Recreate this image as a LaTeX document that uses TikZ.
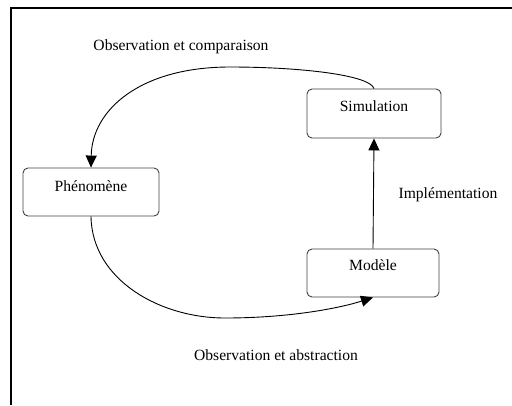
\documentclass[tikz,border=0pt]{standalone}
\usepackage{fontspec}
\setmainfont{Liberation Serif}
\usetikzlibrary{arrows.meta}
\begin{document}
\begin{tikzpicture}[x=1pt,y=-1pt,
  box/.style={draw=black!75,line width=0.9pt,rounded corners=5pt,inner sep=0pt},
  lbl/.style={font=\fontsize{15.6}{18}\selectfont,inner sep=0pt,anchor=center},
  conn/.style={draw=black,line width=0.9pt},
  tip/.style={-{Triangle[length=12pt,width=11pt]}}]
\useasboundingbox (0,0) rectangle (512,405);
\draw[line width=1.3pt] (512,8) -- (11,8) -- (11,405);
\node[box,minimum width=134pt,minimum height=49pt] (sim) at (374,113.5) {};
\node[box,minimum width=136pt,minimum height=48pt] (phen) at (91,192) {};
\node[box,minimum width=132pt,minimum height=48pt] (mod) at (373,273) {};
\node[lbl] (simt) at ([yshift=-18pt]sim.north) {Simulation};
\node[lbl] (phent) at ([yshift=-19pt]phen.north) {Phénomène};
\node[lbl] (modt) at ([yshift=-17pt]mod.north) {Modèle};
\node[lbl] (l1) at (181,47) {Observation et comparaison};
\node[lbl] (l2) at (276,355) {Observation et abstraction};
\node[lbl] (l3) at (448,195) {Implémentation};
\coordinate (top) at (230,67);
\coordinate (bot) at (225,318);
\draw[conn,tip] (sim.north) .. controls (370,75) and (300,67) .. (top)
   .. controls (140,67) and (92,110) .. (phen.north);
\draw[conn,tip] (phen.south) .. controls (92,280) and (160,318) .. (bot)
   .. controls (290,318) and (340,308) .. (mod.south);
\draw[conn,tip] (mod.north) -- (sim.south);
\end{tikzpicture}
\end{document}
